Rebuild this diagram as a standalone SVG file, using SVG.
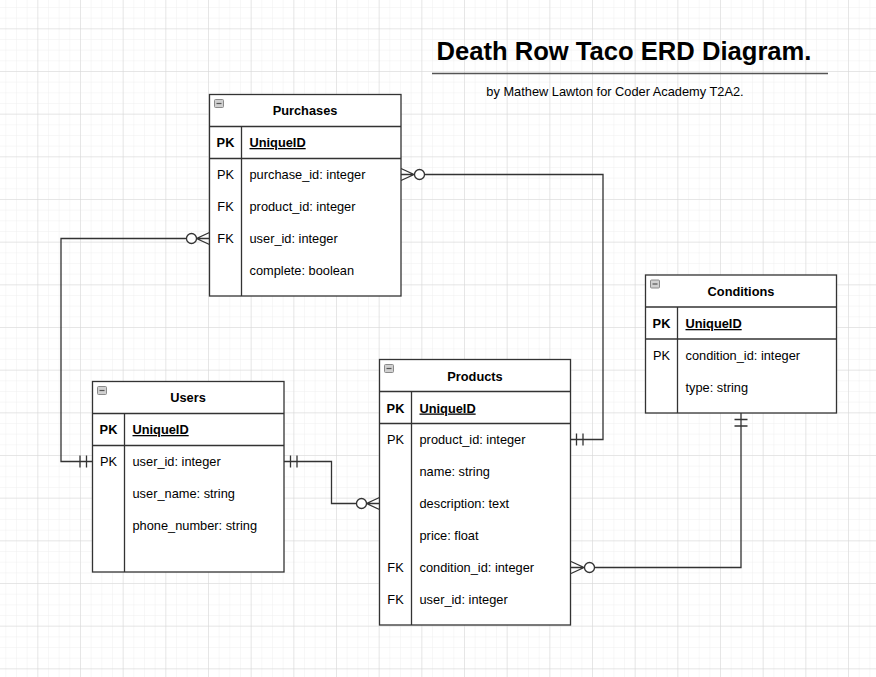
<svg xmlns="http://www.w3.org/2000/svg" width="876" height="677" viewBox="0 0 876 677">
<style>
.tbl{fill:#ffffff;stroke:#333333;stroke-width:1.3}
.ln{stroke:#333333;stroke-width:1.3;fill:none}
.t{font-family:"Liberation Sans",Arial,sans-serif;font-size:12.8px;fill:#000}
.b{font-weight:bold}
.c{text-anchor:middle}
.u{text-decoration:underline}
.cn{stroke:#333333;stroke-width:1.3;fill:none}
.circ{stroke:#333333;stroke-width:1.3;fill:#ffffff}
.icon{fill:#d0d0d0;stroke:#8a8a8a;stroke-width:1}
</style>
<defs>
<pattern id="minor" x="37.333" y="28.333" width="10.667" height="10.667" patternUnits="userSpaceOnUse">
<path d="M0,0 V10.667 M0,0 H10.667" stroke="#efefef" stroke-width="1" fill="none"/>
</pattern>
<pattern id="major" x="37.333" y="28.333" width="42.667" height="42.667" patternUnits="userSpaceOnUse">
<path d="M0,0 V42.667 M0,0 H42.667" stroke="#d6d6d6" stroke-width="1" fill="none"/>
</pattern>
</defs>
<rect x="0" y="0" width="876" height="677" fill="#ffffff"/>
<rect x="0" y="0" width="876" height="677" fill="url(#minor)"/>
<rect x="0" y="0" width="876" height="677" fill="url(#major)"/>

<g id="title">
<text x="624" y="60" class="t b c" style="font-size:25.6px">Death Row Taco ERD Diagram.</text>
<line x1="432" y1="73.5" x2="828" y2="73.5" stroke="#555555" stroke-width="1.5"/>
<text x="615" y="96" class="t c">by Mathew Lawton for Coder Academy T2A2.</text>
</g>

<g id="connectors">
<!-- Purchases.purchase_id -> Products.product_id -->
<path class="cn" d="M424.5,174.5 H603 V439.5 H571"/>
<path class="cn" d="M401,168.5 L414,174.5 L401,180.5 M401,174.5 H414"/>
<circle class="circ" cx="419.5" cy="174.5" r="5"/>
<path class="cn" d="M576.5,433.5 V445.5 M583,433.5 V445.5"/>
<!-- Purchases.user_id -> Users.user_id -->
<path class="cn" d="M186.5,238.5 H61 V461.5 H92.5"/>
<path class="cn" d="M209.5,232.5 L196.5,238.5 L209.5,244.5 M209.5,238.5 H196.5"/>
<circle class="circ" cx="191.5" cy="238.5" r="5"/>
<path class="cn" d="M80,455.5 V467.5 M86.5,455.5 V467.5"/>
<!-- Users.user_id -> Products -->
<path class="cn" d="M284,461.5 H331.5 V503.5 H356.5"/>
<path class="cn" d="M290.5,455.5 V467.5 M297,455.5 V467.5"/>
<path class="cn" d="M379.5,497.5 L366.5,503.5 L379.5,509.5 M379.5,503.5 H366.5"/>
<circle class="circ" cx="361.5" cy="503.5" r="5"/>
<!-- Products.condition_id -> Conditions -->
<path class="cn" d="M594.5,567.5 H741 V413"/>
<path class="cn" d="M571,561.5 L584,567.5 L571,573.5 M571,567.5 H584"/>
<circle class="circ" cx="589.5" cy="567.5" r="5"/>
<path class="cn" d="M734.5,419.5 H747.5 M734.5,426 H747.5"/>
</g>

<g id="purchases">
<rect class="tbl" x="209.5" y="94.5" width="191.5" height="201.5"/>
<rect class="icon" x="214.5" y="99.5" width="9" height="8" rx="1"/>
<line x1="216.5" y1="103.5" x2="221.5" y2="103.5" stroke="#555" stroke-width="1.2"/>
<line class="ln" x1="209.5" y1="126.5" x2="401" y2="126.5"/>
<line class="ln" x1="209.5" y1="158.5" x2="401" y2="158.5"/>
<line class="ln" x1="241.5" y1="126.5" x2="241.5" y2="296"/>
<text class="t b c" x="305" y="115">Purchases</text>
<text class="t b c" x="225.5" y="147">PK</text>
<text class="t b u" x="249.5" y="147">UniqueID</text>
<text class="t c" x="225.5" y="179">PK</text>
<text class="t" x="249.5" y="179">purchase_id: integer</text>
<text class="t c" x="225.5" y="211">FK</text>
<text class="t" x="249.5" y="211">product_id: integer</text>
<text class="t c" x="225.5" y="243">FK</text>
<text class="t" x="249.5" y="243">user_id: integer</text>
<text class="t" x="249.5" y="274.5">complete: boolean</text>
</g>

<g id="users">
<rect class="tbl" x="92.5" y="381.5" width="191.5" height="190.5"/>
<rect class="icon" x="97.5" y="386.5" width="9" height="8" rx="1"/>
<line x1="99.5" y1="390.5" x2="104.5" y2="390.5" stroke="#555" stroke-width="1.2"/>
<line class="ln" x1="92.5" y1="413.5" x2="284" y2="413.5"/>
<line class="ln" x1="92.5" y1="445.5" x2="284" y2="445.5"/>
<line class="ln" x1="124.5" y1="413.5" x2="124.5" y2="572"/>
<text class="t b c" x="188" y="402">Users</text>
<text class="t b c" x="108.5" y="434">PK</text>
<text class="t b u" x="132.5" y="434">UniqueID</text>
<text class="t c" x="108.5" y="466">PK</text>
<text class="t" x="132.5" y="466">user_id: integer</text>
<text class="t" x="132.5" y="498">user_name: string</text>
<text class="t" x="132.5" y="529.5">phone_number: string</text>
</g>

<g id="products">
<rect class="tbl" x="379.5" y="359.5" width="191" height="265.5"/>
<rect class="icon" x="384.5" y="364.5" width="9" height="8" rx="1"/>
<line x1="386.5" y1="368.5" x2="391.5" y2="368.5" stroke="#555" stroke-width="1.2"/>
<line class="ln" x1="379.5" y1="391.5" x2="570.5" y2="391.5"/>
<line class="ln" x1="379.5" y1="423.5" x2="570.5" y2="423.5"/>
<line class="ln" x1="411.5" y1="391.5" x2="411.5" y2="625"/>
<text class="t b c" x="475" y="380.5">Products</text>
<text class="t b c" x="395.5" y="412.5">PK</text>
<text class="t b u" x="419.5" y="412.5">UniqueID</text>
<text class="t c" x="395.5" y="444">PK</text>
<text class="t" x="419.5" y="444">product_id: integer</text>
<text class="t" x="419.5" y="476">name: string</text>
<text class="t" x="419.5" y="508">description: text</text>
<text class="t" x="419.5" y="540">price: float</text>
<text class="t c" x="395.5" y="572">FK</text>
<text class="t" x="419.5" y="572">condition_id: integer</text>
<text class="t c" x="395.5" y="604">FK</text>
<text class="t" x="419.5" y="604">user_id: integer</text>
</g>

<g id="conditions">
<rect class="tbl" x="645.5" y="275" width="191" height="138"/>
<rect class="icon" x="650.5" y="280" width="9" height="8" rx="1"/>
<line x1="652.5" y1="284" x2="657.5" y2="284" stroke="#555" stroke-width="1.2"/>
<line class="ln" x1="645.5" y1="307" x2="836.5" y2="307"/>
<line class="ln" x1="645.5" y1="339" x2="836.5" y2="339"/>
<line class="ln" x1="677.5" y1="307" x2="677.5" y2="413"/>
<text class="t b c" x="741" y="296">Conditions</text>
<text class="t b c" x="661.5" y="328">PK</text>
<text class="t b u" x="685.5" y="328">UniqueID</text>
<text class="t c" x="661.5" y="359.5">PK</text>
<text class="t" x="685.5" y="359.5">condition_id: integer</text>
<text class="t" x="685.5" y="391.5">type: string</text>
</g>
</svg>
